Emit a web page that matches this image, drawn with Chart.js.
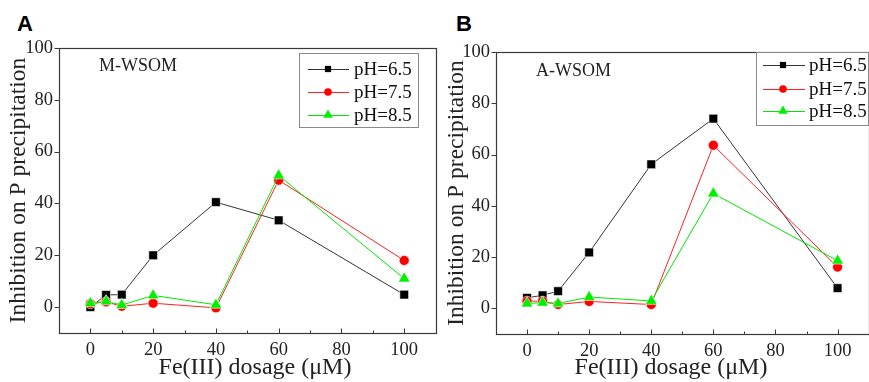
<!DOCTYPE html>
<html><head><meta charset="utf-8">
<script src="https://cdn.jsdelivr.net/npm/chart.js@4.4.0/dist/chart.umd.min.js"></script>
<style>
html,body{margin:0;padding:0;background:#fff;width:869px;height:382px;overflow:hidden;position:relative}
canvas{position:absolute;top:0}
#cA{left:0}
#cB{left:440px}
.lbl{position:absolute;font:bold 22px/22px "Liberation Sans",Arial,sans-serif;color:#000}
</style></head><body>
<div class="lbl" style="left:17px;top:13px">A</div>
<div class="lbl" style="left:456px;top:13px">B</div>
<canvas id="cA" width="443" height="382"></canvas>
<canvas id="cB" width="436" height="382"></canvas>
<script>
// ---- data ----
const dosage = [0, 5, 10, 20, 40, 60, 100];
const seriesLabels = ['pH=6.5', 'pH=7.5', 'pH=8.5'];
const mwsom_pH65 = [0, 4.7, 4.8, 20, 40.5, 33.5, 4.8];
const mwsom_pH75 = [1.3, 2.0, 0.3, 1.5, -0.3, 49, 18];
const mwsom_pH85 = [1.5, 2.2, 0.8, 4.5, 0.9, 50.8, 11];
const awsom_pH65 = [4.1, 5.1, 6.7, 21.8, 56.2, 74, 7.9];
const awsom_pH75 = [2.8, 2.8, 1.5, 2.7, 1.5, 63.6, 16.1];
const awsom_pH85 = [1.9, 2.2, 1.9, 4.4, 2.9, 44.8, 18.6];
const xTickValues = [0, 20, 40, 60, 80, 100];
const xMinorTickValues = [10, 30, 50, 70, 90];
const yTickValues = [0, 20, 40, 60, 80, 100];
const xTitle = 'Fe(III) dosage (\u03BCM)';
const yTitle = 'Inhibition on P precipitation';

const SERIF = '"Liberation Serif","Times New Roman",serif';
const styles = [
  {line: '#333333', fill: '#000000', pointStyle: 'rect', radius: 6.2, legendRadius: 4.4, order: 3},
  {line: '#ff2020', fill: '#ff0000', pointStyle: 'circle', radius: 5.0, legendRadius: 3.8, order: 2},
  {line: '#00e800', fill: '#00f000', pointStyle: 'triangle', radius: 6.8, legendRadius: 5.4, order: 1}
];

function makeDatasets(arrs) {
  return arrs.map((arr, k) => ({
    label: seriesLabels[k],
    data: dosage.map((x, i) => ({x: x, y: arr[i]})),
    borderColor: styles[k].line,
    borderWidth: 1,
    backgroundColor: styles[k].fill,
    pointBackgroundColor: styles[k].fill,
    pointBorderColor: '#ffffff',
    pointBorderWidth: 0.6,
    pointStyle: styles[k].pointStyle,
    pointRadius: styles[k].radius,
    pointHoverRadius: styles[k].radius,
    tension: 0,
    order: styles[k].order,
    legendRadius: styles[k].legendRadius
  }));
}

const decorPlugin = {
  id: 'decor',
  afterDraw(chart, args, o) {
    const ctx = chart.ctx;
    const a = chart.chartArea;
    const xs = chart.scales.x, ys = chart.scales.y;
    ctx.save();
    // frame
    ctx.strokeStyle = '#3a3a3a';
    ctx.lineWidth = 1.2;
    ctx.strokeRect(Math.round(a.left) + 0.5, Math.round(a.top) + 0.5,
      Math.round(a.right) - Math.round(a.left), Math.round(a.bottom) - Math.round(a.top));
    // ticks
    ctx.lineWidth = 1;
    ctx.beginPath();
    xTickValues.forEach(v => {
      const px = Math.round(xs.getPixelForValue(v)) + 0.5;
      ctx.moveTo(px, a.bottom); ctx.lineTo(px, a.bottom - 4.5);
    });
    xMinorTickValues.forEach(v => {
      const px = Math.round(xs.getPixelForValue(v)) + 0.5;
      ctx.moveTo(px, a.bottom); ctx.lineTo(px, a.bottom - 2.5);
    });
    yTickValues.forEach(v => {
      const py = Math.round(ys.getPixelForValue(v)) + 0.5;
      ctx.moveTo(a.left, py); ctx.lineTo(a.left - 4.5, py);
    });
    ctx.stroke();
    // x title
    ctx.fillStyle = '#222';
    ctx.font = '24px ' + SERIF;
    ctx.textAlign = 'center';
    ctx.textBaseline = 'middle';
    ctx.fillText(xTitle, o.xTitleX, o.xTitleY);
    // panel text
    ctx.font = '18px ' + SERIF;
    ctx.textAlign = 'left';
    ctx.fillText(o.note, o.noteX, o.noteY);
    // legend
    const L = o.legend;
    ctx.fillStyle = '#ffffff';
    ctx.fillRect(L.x, L.y, L.w, L.h);
    ctx.strokeStyle = '#8a8a8a';
    ctx.lineWidth = 1;
    ctx.strokeRect(L.x + 0.5, L.y + 0.5, L.w, L.h);
    chart.data.datasets.forEach((ds, i) => {
      const ry = L.rows[i];
      ctx.strokeStyle = ds.borderColor;
      ctx.lineWidth = 1;
      ctx.beginPath();
      ctx.moveTo(L.lineX1, ry + 0.5); ctx.lineTo(L.lineX2, ry + 0.5);
      ctx.stroke();
      ctx.fillStyle = ds.pointBackgroundColor;
      ctx.strokeStyle = ds.pointBackgroundColor;
      Chart.helpers.drawPoint(ctx, {pointStyle: ds.pointStyle, radius: ds.legendRadius, rotation: 0, borderWidth: 0}, L.markX, ry);
      ctx.fillStyle = '#111';
      ctx.font = '19px ' + SERIF;
      ctx.textAlign = 'left';
      ctx.textBaseline = 'middle';
      ctx.fillText(ds.label, L.textX, ry + 1);
    });
    ctx.restore();
  }
};

function makeChart(id, arrs, cfg) {
  return new Chart(document.getElementById(id), {
    type: 'line',
    data: {datasets: makeDatasets(arrs)},
    plugins: [decorPlugin],
    options: {
      responsive: false,
      animation: false,
      devicePixelRatio: 1,
      layout: {padding: {left: 0, top: cfg.top, right: cfg.right, bottom: 0}},
      plugins: {
        legend: {display: false},
        tooltip: {enabled: false},
        decor: cfg.decor
      },
      scales: {
        x: {
          type: 'linear', min: -10, max: 110,
          afterBuildTicks: s => { s.ticks = xTickValues.map(v => ({value: v})); },
          afterFit: s => { s.height = cfg.xHeight; },
          grid: {display: false, drawTicks: false},
          border: {display: false},
          ticks: {color: '#222', padding: 6, font: {family: SERIF, size: 18.5}, maxRotation: 0, autoSkip: false},
          title: {display: false}
        },
        y: {
          type: 'linear', min: -10, max: 100,
          afterBuildTicks: s => { s.ticks = yTickValues.map(v => ({value: v})); },
          afterFit: s => { s.width = cfg.yWidth; },
          grid: {display: false, drawTicks: false},
          border: {display: false},
          ticks: {color: '#222', padding: 6, font: {family: SERIF, size: 18.5}, autoSkip: false},
          title: {display: true, text: yTitle, color: '#222', font: {family: SERIF, size: 23.5}, padding: {top: cfg.yTitlePad, bottom: 0}}
        }
      }
    }
  });
}

makeChart('cA', [mwsom_pH65, mwsom_pH75, mwsom_pH85], {
  top: 48, right: 2, xHeight: 49, yWidth: 59, yTitlePad: 5,
  decor: {
    xTitleX: 255, xTitleY: 368, note: 'M-WSOM', noteX: 99, noteY: 66,
    legend: {x: 299, y: 53, w: 119, h: 74, rows: [69, 92, 115], lineX1: 308, lineX2: 349, markX: 328, textX: 354}
  }
});
makeChart('cB', [awsom_pH65, awsom_pH75, awsom_pH85], {
  top: 52, right: 2, xHeight: 48, yWidth: 56, yTitlePad: 3,
  decor: {
    xTitleX: 231, xTitleY: 368, note: 'A-WSOM', noteX: 96, noteY: 71,
    legend: {x: 316, y: 52, w: 112, h: 73, rows: [65, 89, 111], lineX1: 323, lineX2: 365, markX: 343, textX: 369}
  }
});
</script>
</body></html>
